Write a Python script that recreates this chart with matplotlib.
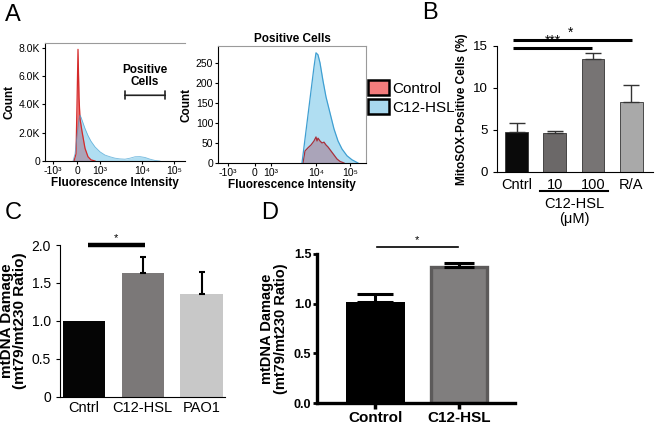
import matplotlib
matplotlib.use("Agg")
import matplotlib.pyplot as plt
from matplotlib.patches import Patch

plt.rcParams['font.family'] = ['Liberation Sans', 'DejaVu Sans']

# ---- Panel A data (flow histograms, x in display channel units) ----
tick_labels_hist = ["-10³", "0", "10³", "10⁴", "10⁵"]
left_ticks = [7.5, 32.3, 55, 97, 129]
right_ticks = [10, 37, 53, 98, 132]

left_ctrl_x = [29, 31, 32, 33, 34, 35, 37, 40, 43, 46, 50]
left_ctrl_y = [0, 500, 4000, 7900, 4500, 3000, 2100, 900, 300, 80, 0]
left_c12_x = [28, 30, 32, 34, 35, 36, 38, 40, 43, 46, 50, 55, 60, 65, 70, 75, 80, 85, 90, 95, 100, 105, 110, 115]
left_c12_y = [0, 500, 1800, 3000, 3250, 3100, 2700, 2300, 1800, 1400, 1000, 650, 420, 300, 200, 150, 130,
              200, 300, 310, 250, 130, 40, 0]

right_ctrl_x = [85, 87, 90, 93, 96, 98, 99, 100, 102, 104, 106, 108, 110, 113, 116, 119, 122, 126]
right_ctrl_y = [0, 30, 38, 45, 55, 65, 55, 62, 55, 50, 52, 45, 40, 30, 20, 10, 4, 0]
right_c12_x = [84, 87, 90, 93, 96, 98, 100, 102, 105, 108, 112, 116, 120, 124, 129, 134, 140]
right_c12_y = [0, 60, 120, 180, 240, 275, 270, 250, 205, 165, 125, 85, 55, 35, 18, 8, 0]

# ---- Panel B data ----
b_labels = ["Cntrl", "10", "100", "R/A"]
b_means = [4.8, 4.6, 13.5, 8.3]
b_err = [1.0, 0.25, 0.7, 2.0]
b_colors = ["#0a0a0a", "#6b6868", "#777474", "#a9a9a9"]

# ---- Panel C data ----
c_labels = ["Cntrl", "C12-HSL", "PAO1"]
c_means = [1.0, 1.63, 1.36]
c_err = [0.0, 0.21, 0.29]
c_colors = ["#050505", "#7b7878", "#c8c8c8"]

# ---- Panel D data ----
d_labels = ["Control", "C12-HSL"]
d_means = [1.02, 1.37]
d_err = [0.08, 0.04]

fig = plt.figure(figsize=(6.57, 4.24), dpi=100)
W, H = 657, 424


def ax_px(x0, y0, x1, y1):
    return fig.add_axes([x0 / W, 1 - y1 / H, (x1 - x0) / W, (y1 - y0) / H])


red_fill = "#f07070"
red_edge = "#d42a2a"
blue_fill = "#7cc8ea"
blue_edge = "#3f9fd2"


def hist_style(ax, ticks):
    ax.set_xticks(ticks)
    ax.set_xticklabels(tick_labels_hist)
    ax.tick_params(labelsize=7.5, length=2.5, pad=1)
    ax.set_xlabel("Fluorescence Intensity", fontsize=8.5, fontweight="bold", labelpad=1)
    ax.set_ylabel("Count", fontsize=8.5, fontweight="bold", labelpad=2)
    for s in ["top", "right"]:
        ax.spines[s].set_color("#9a9a9a")


# Panel A left
axL = ax_px(45, 43, 185, 161)
axL.fill_between(left_ctrl_x, left_ctrl_y, color=red_fill, lw=0)
axL.plot(left_ctrl_x, left_ctrl_y, color=red_edge, lw=0.9)
axL.fill_between(left_c12_x, left_c12_y, color=blue_fill, alpha=0.6, lw=0)
axL.plot(left_c12_x, left_c12_y, color=blue_edge, lw=0.6, alpha=0.7)
axL.set_xlim(0, 140)
axL.set_ylim(0, 8350)
axL.set_yticks([0, 2000, 4000, 6000, 8000])
axL.set_yticklabels(["0", "2.0K", "4.0K", "6.0K", "8.0K"])
hist_style(axL, left_ticks)
axL.spines["right"].set_visible(False)
axL.annotate("", xy=(123, 4650), xytext=(77, 4650),
             arrowprops=dict(arrowstyle="|-|", lw=1.2, color="#222222", mutation_scale=3))
axL.text(100, 5150, "Positive\nCells", ha="center", va="bottom", fontsize=8.5,
         fontweight="bold", linespacing=1.0)

# Panel A right
axR = ax_px(218, 46, 366, 163)
axR.fill_between(right_ctrl_x, right_ctrl_y, color=red_fill, lw=0)
axR.plot(right_ctrl_x, right_ctrl_y, color="#a8303c", lw=0.9)
axR.fill_between(right_c12_x, right_c12_y, color=blue_fill, alpha=0.6, lw=0)
axR.plot(right_c12_x, right_c12_y, color=blue_edge, lw=0.9)
axR.set_xlim(0, 148)
axR.set_ylim(0, 292)
axR.set_yticks([0, 50, 100, 150, 200, 250])
hist_style(axR, right_ticks)
axR.set_title("Positive Cells", fontsize=8.5, fontweight="bold", pad=3)

handles = [Patch(facecolor="#f47c7c", edgecolor="black", lw=1.8),
           Patch(facecolor="#a8d8ee", edgecolor="black", lw=1.8)]
fig.legend(handles, ["Control", "C12-HSL"], loc="upper left", bbox_to_anchor=(368 / W, 1 - 80 / H),
           frameon=False, fontsize=11, handlelength=1.4, handleheight=1.1, handletextpad=0.2,
           labelspacing=0.25, borderaxespad=0, borderpad=0)

# Panel B
axB = ax_px(497, 46, 653, 172)
xb = list(range(len(b_labels)))
axB.bar(xb, b_means, width=0.6, color=b_colors, edgecolor="#333333", lw=0.6,
        yerr=[[0] * 4, b_err], capsize=5.5, error_kw=dict(ecolor="#333333", elinewidth=1.0, capthick=1.0))
axB.set_xlim(-0.51, 3.57)
axB.set_ylim(0, 15)
axB.set_yticks([0, 5, 10, 15])
axB.set_xticks(xb)
axB.set_xticklabels(b_labels, fontsize=10.5)
axB.tick_params(axis="y", labelsize=9.5, length=3)
axB.tick_params(axis="x", length=0, pad=4)
for s in ["top", "right"]:
    axB.spines[s].set_visible(False)
axB.set_ylabel("MitoSOX-Positive Cells (%)", fontsize=8.5, fontweight="bold", labelpad=4)
axB.plot([-0.09, 3.02], [15.7, 15.7], color="black", lw=2.2, clip_on=False, solid_capstyle="butt")
axB.plot([-0.09, 1.98], [14.75, 14.75], color="black", lw=2.2, clip_on=False, solid_capstyle="butt")
axB.text(1.4, 15.75, "*", ha="center", va="bottom", fontsize=10)
axB.text(0.95, 14.8, "***", ha="center", va="bottom", fontsize=10)
trB = axB.get_xaxis_transform()
axB.plot([0.62, 2.4], [-0.15, -0.15], color="black", lw=1.5, transform=trB, clip_on=False)
axB.text(1.51, -0.2, "C12-HSL\n(μM)", transform=trB, ha="center", va="top", fontsize=10.5,
         linespacing=1.05)

# Panel C
axC = ax_px(60, 245, 225, 397)
xc = list(range(len(c_labels)))
axC.bar(xc, c_means, width=0.72, color=c_colors, lw=0)
axC.errorbar(xc[1:], c_means[1:], yerr=[[0, 0], c_err[1:]], fmt="none", ecolor="black",
             elinewidth=1.5, capsize=2.5, capthick=1.5)
axC.set_xlim(-0.41, 2.4)
axC.set_ylim(0, 2.0)
axC.set_yticks([0, 0.5, 1.0, 1.5, 2.0])
axC.set_yticklabels(["0", "0.5", "1.0", "1.5", "2.0"])
axC.set_xticks(xc)
axC.set_xticklabels(c_labels, fontsize=10.5)
axC.tick_params(axis="y", labelsize=10, length=3)
axC.tick_params(axis="x", length=0, pad=3)
for s in ["top", "right"]:
    axC.spines[s].set_visible(False)
axC.set_ylabel("mtDNA Damage\n(mt79/mt230 Ratio)", fontsize=11, fontweight="bold", labelpad=3,
               linespacing=0.95)
axC.plot([0.07, 1.04], [2.0, 2.0], color="black", lw=3.2, clip_on=False, solid_capstyle="butt")
axC.text(0.55, 2.02, "*", ha="center", va="bottom", fontsize=8)

# Panel D
axD = ax_px(317, 254, 515, 403)
xd = list(range(len(d_labels)))
axD.bar(xd[0], d_means[0], width=0.7, color="black", lw=0)
axD.bar(xd[1], d_means[1], width=0.67, color="#807e7e", edgecolor="#5c5a5a", lw=2.4)
axD.errorbar(xd[0], d_means[0], yerr=[[0], [d_err[0]]], fmt="none", ecolor="black", elinewidth=2.2,
             capsize=13, capthick=2.2)
axD.errorbar(xd[1], d_means[1], yerr=[[0], [d_err[1]]], fmt="none", ecolor="black", elinewidth=2.2,
             capsize=10.5, capthick=2.2)
axD.set_xlim(-0.70, 1.67)
axD.set_ylim(0, 1.5)
axD.set_yticks([0, 0.5, 1.0, 1.5])
axD.set_yticklabels(["0.0", "0.5", "1.0", "1.5"], fontweight="bold")
axD.set_xticks(xd)
axD.set_xticklabels(d_labels, fontsize=11, fontweight="bold")
axD.tick_params(axis="y", labelsize=9, length=3, width=2, pad=1)
axD.tick_params(axis="x", length=4, width=2.5, pad=2)
for s in ["top", "right"]:
    axD.spines[s].set_visible(False)
for s in ["left", "bottom"]:
    axD.spines[s].set_linewidth(2.4)
axD.set_ylabel("mtDNA Damage\n(mt79/mt230 Ratio)", fontsize=10.5, fontweight="bold", labelpad=4,
               linespacing=1.0)
axD.plot([0.02, 0.99], [1.57, 1.57], color="black", lw=1.2, clip_on=False)
axD.text(0.5, 1.585, "*", ha="center", va="bottom", fontsize=8)

# panel letters
for lab, px, py in [("A", 5, 4), ("B", 422, 2), ("C", 5, 202), ("D", 261, 202)]:
    fig.text(px / W, 1 - py / H, lab, fontsize=17, ha="left", va="top")

fig.savefig("out.png", dpi=100)
